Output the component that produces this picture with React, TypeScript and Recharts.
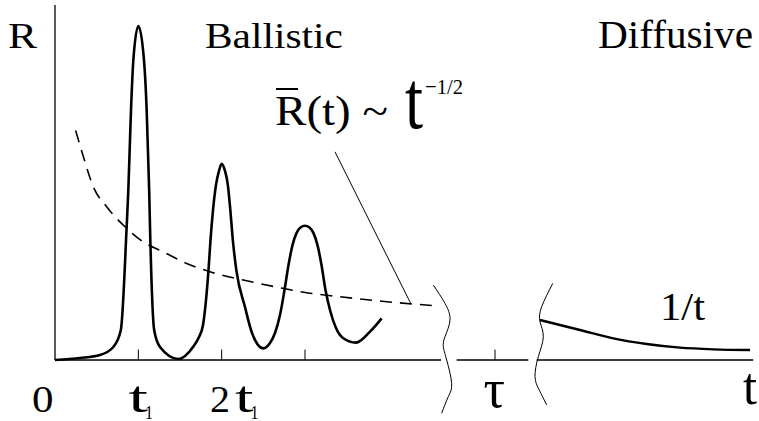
import React from 'react';
import { LineChart, Line, XAxis, YAxis, ReferenceLine } from 'recharts';

// t in units of t1, R scaled so the first echo peak is ~1
const ballistic = [
  { t: 0, r: 0 },
  { t: 0.3, r: 0.006 },
  { t: 0.54, r: 0.015 },
  { t: 0.7, r: 0.039 },
  { t: 0.79, r: 0.09 },
  { t: 0.86, r: 0.4 },
  { t: 0.88, r: 0.51 },
  { t: 0.912, r: 0.751 },
  { t: 0.94, r: 0.9 },
  { t: 1.0, r: 1.003 },
  { t: 1.068, r: 0.9 },
  { t: 1.1, r: 0.751 },
  { t: 1.13, r: 0.51 },
  { t: 1.14, r: 0.4 },
  { t: 1.19, r: 0.09 },
  { t: 1.26, r: 0.039 },
  { t: 1.48, r: 0.003 },
  { t: 1.656, r: 0.039 },
  { t: 1.728, r: 0.069 },
  { t: 1.776, r: 0.105 },
  { t: 1.812, r: 0.18 },
  { t: 1.842, r: 0.27 },
  { t: 1.866, r: 0.36 },
  { t: 1.896, r: 0.45 },
  { t: 1.932, r: 0.526 },
  { t: 1.968, r: 0.568 },
  { t: 2.0, r: 0.589 },
  { t: 2.04, r: 0.568 },
  { t: 2.074, r: 0.526 },
  { t: 2.104, r: 0.45 },
  { t: 2.134, r: 0.36 },
  { t: 2.176, r: 0.27 },
  { t: 2.28, r: 0.159 },
  { t: 2.364, r: 0.081 },
  { t: 2.5, r: 0.035 },
  { t: 2.58, r: 0.051 },
  { t: 2.64, r: 0.081 },
  { t: 2.7, r: 0.135 },
  { t: 2.754, r: 0.21 },
  { t: 2.802, r: 0.285 },
  { t: 2.85, r: 0.345 },
  { t: 2.898, r: 0.381 },
  { t: 2.946, r: 0.398 },
  { t: 3.0, r: 0.403 },
  { t: 3.054, r: 0.398 },
  { t: 3.102, r: 0.381 },
  { t: 3.15, r: 0.345 },
  { t: 3.198, r: 0.285 },
  { t: 3.246, r: 0.21 },
  { t: 3.3, r: 0.15 },
  { t: 3.372, r: 0.096 },
  { t: 3.456, r: 0.066 },
  { t: 3.612, r: 0.052 },
  { t: 3.78, r: 0.085 },
  { t: 3.92, r: 0.125 },
];

// averaged envelope ~ t^-1/2 (dashed)
const average = [
  { t: 0.248, r: 0.689 },
  { t: 0.34, r: 0.611 },
  { t: 0.46, r: 0.52 },
  { t: 0.62, r: 0.46 },
  { t: 0.84, r: 0.4 },
  { t: 1.056, r: 0.355 },
  { t: 1.296, r: 0.325 },
  { t: 1.58, r: 0.29 },
  { t: 1.86, r: 0.265 },
  { t: 2.26, r: 0.24 },
  { t: 2.74, r: 0.215 },
  { t: 3.02, r: 0.202 },
  { t: 3.42, r: 0.19 },
  { t: 3.98, r: 0.175 },
  { t: 4.608, r: 0.162 },
];

// diffusive tail ~ 1/t
const diffusive = [
  { t: 5.82, r: 0.12 },
  { t: 6.3, r: 0.09 },
  { t: 6.7, r: 0.065 },
  { t: 7.1, r: 0.048 },
  { t: 7.5, r: 0.037 },
  { t: 7.9, r: 0.032 },
  { t: 8.34, r: 0.03 },
];

// axis break marks
const leftBreak = [
  { t: 4.54, r: 0.225 },
  { t: 4.68, r: 0.17 },
  { t: 4.74, r: 0.12 },
  { t: 4.68, r: 0.07 },
  { t: 4.66, r: 0.04 },
  { t: 4.7, r: 0 },
  { t: 4.76, r: -0.07 },
  { t: 4.72, r: -0.11 },
  { t: 4.64, r: -0.16 },
];
const rightBreak = [
  { t: 5.973, r: 0.23 },
  { t: 5.84, r: 0.16 },
  { t: 5.82, r: 0.115 },
  { t: 5.86, r: 0.07 },
  { t: 5.8, r: 0.01 },
  { t: 5.76, r: -0.05 },
  { t: 5.81, r: -0.09 },
  { t: 5.9, r: -0.135 },
];

const axisSegments = [
  [0, 4.632],
  [4.82, 5.68],
  [5.78, 8.38],
];
const tickPositions = [1, 2, 3, 5.28];
const tickHeight = 0.0315;
const rAxisTop = 1.066;
const pointer = [
  { x: 3.36, y: 0.625 },
  { x: 4.272, y: 0.168 },
];

const W = 759;
const H = 421;
const serif = 'Liberation Serif';

const Txt = ({ x, y, size, len, children }: any) => (
  <text
    x={x}
    y={y}
    fill="#000"
    fontFamily={serif}
    fontSize={size}
    textLength={len}
    lengthAdjust="spacingAndGlyphs"
  >
    {children}
  </text>
);

export default function App() {
  return (
    <div style={{ position: 'relative', width: W, height: H, background: '#fff' }}>
      <style>{'body{margin:0;background:#fff}'}</style>
      <LineChart width={W} height={H} margin={{ top: 0, right: 0, bottom: 0, left: 0 }}>
        <XAxis type="number" dataKey="t" domain={[-0.66, 8.448]} allowDataOverflow hide />
        <YAxis type="number" dataKey="r" domain={[-0.1832, 1.081]} allowDataOverflow hide />

        {/* axes */}
        <ReferenceLine segment={[{ x: 0, y: 0 }, { x: 0, y: rAxisTop }]} stroke="#000" strokeWidth={1.3} />
        {axisSegments.map(([a, b], i) => (
          <ReferenceLine key={'ax' + i} segment={[{ x: a, y: 0 }, { x: b, y: 0 }]} stroke="#000" strokeWidth={1.6} />
        ))}
        {tickPositions.map((p, i) => (
          <ReferenceLine key={'tk' + i} segment={[{ x: p, y: 0 }, { x: p, y: tickHeight }]} stroke="#000" strokeWidth={1} />
        ))}
        <ReferenceLine segment={pointer} stroke="#000" strokeWidth={1} />

        <Line data={average} dataKey="r" type="monotone" stroke="#000" strokeWidth={1.6} strokeDasharray="12 8" dot={false} activeDot={false} isAnimationActive={false} />
        <Line data={ballistic} dataKey="r" type="monotone" stroke="#000" strokeWidth={2.6} dot={false} activeDot={false} isAnimationActive={false} />
        <Line data={diffusive} dataKey="r" type="monotone" stroke="#000" strokeWidth={2.4} dot={false} activeDot={false} isAnimationActive={false} />
        <Line data={leftBreak} dataKey="r" type="natural" stroke="#000" strokeWidth={1} dot={false} activeDot={false} isAnimationActive={false} />
        <Line data={rightBreak} dataKey="r" type="natural" stroke="#000" strokeWidth={1} dot={false} activeDot={false} isAnimationActive={false} />
      </LineChart>

      <svg width={W} height={H} style={{ position: 'absolute', left: 0, top: 0, pointerEvents: 'none' }}>
        <Txt x={8} y={48} size={35} len={29}>R</Txt>
        <Txt x={205} y={48} size={35} len={138}>Ballistic</Txt>
        <Txt x={598} y={48} size={39} len={155}>Diffusive</Txt>

        <Txt x={275} y={125} size={42} len={113}>R(t) ~</Txt>
        <line x1={276} x2={298} y1={89} y2={89} stroke="#000" strokeWidth={2} />
        <Txt x={405} y={128} size={82} len={18}>t</Txt>
        <Txt x={425} y={94} size={22} len={38}>−1/2</Txt>

        <Txt x={660} y={320} size={40} len={45}>1/t</Txt>

        <Txt x={32} y={411.5} size={37} len={21.5}>0</Txt>
        <Txt x={128.5} y={411.5} size={44} len={19.5}>t</Txt>
        <Txt x={145} y={418.5} size={19.5} len={8}>1</Txt>
        <Txt x={210} y={411.5} size={37} len={20}>2</Txt>
        <Txt x={235} y={411.5} size={44} len={18.5}>t</Txt>
        <Txt x={250.5} y={418.5} size={19.5} len={8}>1</Txt>
        <Txt x={483.5} y={406.5} size={54} len={21.5}>τ</Txt>
        <Txt x={743} y={404} size={52} len={14}>t</Txt>
      </svg>
    </div>
  );
}
